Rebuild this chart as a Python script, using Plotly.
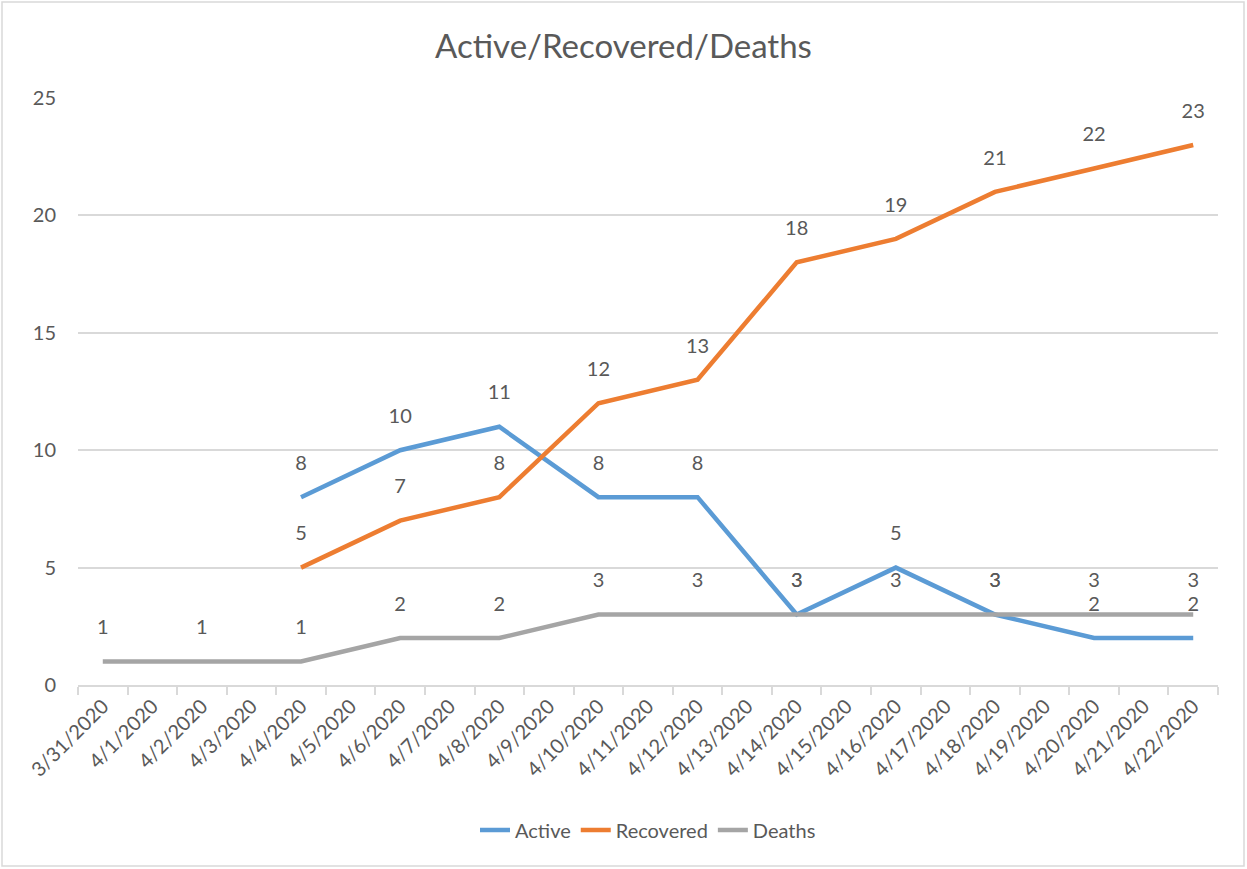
import plotly.graph_objects as go

dates = ["3/31/2020", "4/1/2020", "4/2/2020", "4/3/2020", "4/4/2020", "4/5/2020",
         "4/6/2020", "4/7/2020", "4/8/2020", "4/9/2020", "4/10/2020", "4/11/2020",
         "4/12/2020", "4/13/2020", "4/14/2020", "4/15/2020", "4/16/2020", "4/17/2020",
         "4/18/2020", "4/19/2020", "4/20/2020", "4/21/2020", "4/22/2020"]

active_dates = ["4/4/2020", "4/6/2020", "4/8/2020", "4/10/2020", "4/12/2020",
                "4/14/2020", "4/16/2020", "4/18/2020", "4/20/2020", "4/22/2020"]
active = [8, 10, 11, 8, 8, 3, 5, 3, 2, 2]

recovered_dates = active_dates
recovered = [5, 7, 8, 12, 13, 18, 19, 21, 22, 23]

deaths_dates = ["3/31/2020", "4/2/2020"] + active_dates
deaths = [1, 1, 1, 2, 2, 3, 3, 3, 3, 3, 3, 3]

W, H = 1247, 869
ML, MR, MT, MB = 78, 29, 98, 184
FONT = "Lato"
TXT = "#595959"

fig = go.Figure()
series = [("Active", active_dates, active, "#5B9BD5"),
          ("Recovered", recovered_dates, recovered, "#ED7D31"),
          ("Deaths", deaths_dates, deaths, "#A5A5A5")]
for name, xs, ys, col in series:
    fig.add_trace(go.Scatter(
        x=xs, y=ys, name=name, mode="lines+markers+text",
        line=dict(color=col, width=4.5),
        marker=dict(size=34, color="rgba(0,0,0,0)"),
        text=[str(v) for v in ys], textposition="top center",
        textfont=dict(family=FONT, size=20, color=TXT),
        cliponaxis=False,
    ))

pw = W - ML - MR
ph = H - MT - MB
fig.add_shape(type="rect", xref="paper", yref="paper",
              x0=(2 - ML) / pw, x1=(W - 3 - ML) / pw,
              y0=(H - MB - (H - 3)) / ph, y1=(H - MB - 2) / ph,
              line=dict(color="#D9D9D9", width=1.5), layer="below")

fig.update_layout(
    width=W, height=H,
    margin=dict(l=ML, r=MR, t=MT, b=MB),
    paper_bgcolor="white", plot_bgcolor="white",
    font=dict(family=FONT, size=20, color=TXT),
    title=dict(text="Active/Recovered/Deaths", x=0.5, xanchor="center",
               y=1 - 46 / H, yanchor="middle",
               font=dict(family=FONT, size=33, color=TXT)),
    showlegend=True,
    legend=dict(orientation="h", x=0.5, xanchor="center", y=-(830 - (H - MB)) / ph,
                yanchor="middle", font=dict(family=FONT, size=20, color=TXT),
                traceorder="normal"),
    xaxis=dict(type="category", categoryorder="array", categoryarray=dates,
               tickvals=dates, ticktext=dates, range=[-0.5, len(dates) - 0.5],
               tickangle=-45, tickson="boundaries", ticks="outside", ticklen=8,
               tickcolor="#D9D9D9", tickwidth=1.5, showline=True, linecolor="#D9D9D9",
               linewidth=1.5, showgrid=False,
               tickfont=dict(family=FONT, size=20, color=TXT)),
    yaxis=dict(range=[0, 25], dtick=5, showgrid=True, gridcolor="#D9D9D9", gridwidth=1.5,
               zeroline=False, showline=False, ticks="", ticklabelstandoff=21,
               tickfont=dict(family=FONT, size=20, color=TXT)),
)

fig.write_html("out.html", config={"displayModeBar": False},
               post_script="document.body.style.margin='0px';")
